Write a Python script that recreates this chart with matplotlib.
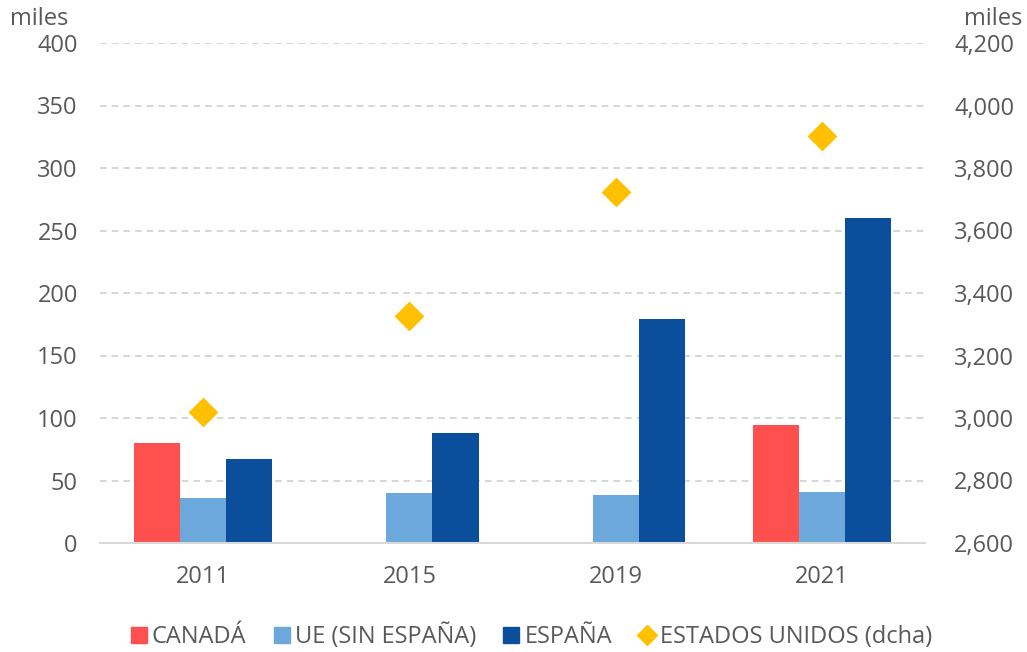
import matplotlib.pyplot as plt
import numpy as np
from matplotlib.lines import Line2D
from matplotlib.ticker import FuncFormatter

years = ["2011", "2015", "2019", "2021"]
canada = [80, np.nan, np.nan, 94.5]
ue = [36, 40, 38.5, 41]
espana = [67.5, 88, 179, 260]
eeuu = [3018, 3328, 3722, 3903]

c_can = "#FF5050"
c_ue = "#6CA8DC"
c_esp = "#0B4E9B"
c_usa = "#FFC000"
txt = "#595959"

plt.rcParams['font.family'] = ['Open Sans', 'DejaVu Sans']
fs = 17

fig = plt.figure(figsize=(10.27, 6.52), dpi=100)
ax = fig.add_axes([100/1027, 1-543/652, 825/1027, 500/652])
ax2 = ax.twinx()

x = np.arange(len(years))
w = 0.224
ax.bar(x - w, canada, w, color=c_can, label="CANADÁ")
ax.bar(x, ue, w, color=c_ue, label="UE (SIN ESPAÑA)")
ax.bar(x + w, espana, w, color=c_esp, label="ESPAÑA")
ax2.scatter(x, eeuu, marker="D", s=230, color=c_usa, zorder=3, linewidths=0)

ax.set_xlim(-0.5, 3.5)
ax.set_ylim(0, 400)
ax.set_yticks(np.arange(0, 401, 50))
ax2.set_ylim(2600, 4200)
ax2.set_yticks(np.arange(2600, 4201, 200))
ax2.yaxis.set_major_formatter(FuncFormatter(lambda v, p: f"{int(v):,}"))

ax.set_xticks(x)
ax.set_xticklabels(years)
ax.yaxis.grid(True, linestyle=(0, (4, 3)), color="#D0D0D0", linewidth=1.2)
ax.set_axisbelow(True)

for a in (ax, ax2):
    for s in a.spines.values():
        s.set_visible(False)
    a.tick_params(length=0, labelsize=fs, colors=txt)
ax.spines["bottom"].set_visible(True)
ax.spines["bottom"].set_color("#D9D9D9")
ax.spines["bottom"].set_linewidth(1.5)
ax.tick_params(axis="y", pad=16)
ax.tick_params(axis="x", pad=16)
ax2.tick_params(axis="y", pad=21)

fig.text(10/1027, 1-19/652, "miles", fontsize=fs, color=txt, va="center", ha="left")
fig.text(1022/1027, 1-19/652, "miles", fontsize=fs, color=txt, va="center", ha="right")

handles = [
    Line2D([], [], marker="s", linestyle="", color=c_can, markersize=11),
    Line2D([], [], marker="s", linestyle="", color=c_ue, markersize=11),
    Line2D([], [], marker="s", linestyle="", color=c_esp, markersize=11),
    Line2D([], [], marker="D", linestyle="", color=c_usa, markersize=10),
]
labels = ["CANADÁ", "UE (SIN ESPAÑA)", "ESPAÑA", "ESTADOS UNIDOS (dcha)"]
leg = fig.legend(handles, labels, loc="center", bbox_to_anchor=(532/1027, 1-636/652),
                 ncol=4, frameon=False, fontsize=fs, handlelength=0.6,
                 handletextpad=0.25, columnspacing=1.2)
for t in leg.get_texts():
    t.set_color(txt)

fig.savefig("out.png", dpi=100)
